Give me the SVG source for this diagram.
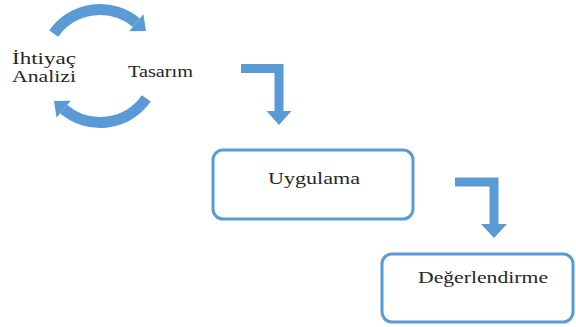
<svg xmlns="http://www.w3.org/2000/svg" width="576" height="327" viewBox="0 0 576 327">
  <defs>
    <style>
      .lbl { font-size: 17px; fill: #262626; }
      .box { fill: #ffffff; stroke: #5b9bd5; stroke-width: 3; }
      .band { fill: none; stroke: #5b9bd5; stroke-width: 11; stroke-linecap: butt; }
      .bar { fill: none; stroke: #5b9bd5; stroke-width: 9; stroke-linejoin: miter; stroke-linecap: butt; }
      .head { fill: #5b9bd5; }
    </style>
  </defs>
  <rect width="576" height="327" fill="#ffffff"/>

  <g id="connectors">
    <path class="band" d="M53.7,33.6 A56.5,56.5 0 0 1 136.3,22.7"/>
    <polygon class="head" points="143.4,14.2 146.0,31.0 129.2,31.2"/>
    <path class="band" d="M146.3,98.4 A56.5,56.5 0 0 1 63.7,109.3"/>
    <polygon class="head" points="56.6,117.8 54.0,101.0 70.8,100.8"/>
    <path class="bar" d="M241,68.5 H279 V112"/>
    <polygon class="head" points="266.5,111 291.5,111 279,125"/>
    <path class="bar" d="M455,182 H494 V225"/>
    <polygon class="head" points="481,224 507,224 494,238"/>
  </g>

  <g font-family="Liberation Serif, DejaVu Serif, serif">
    <g id="node-ihtiyac">
      <text class="lbl" x="12" y="64" textLength="64" lengthAdjust="spacingAndGlyphs">İhtiyaç</text>
      <text class="lbl" x="12" y="82" textLength="64" lengthAdjust="spacingAndGlyphs">Analizi</text>
    </g>

    <g id="node-tasarim">
      <text class="lbl" x="128" y="77" textLength="65" lengthAdjust="spacingAndGlyphs">Tasarım</text>
    </g>

    <g id="node-uygulama">
      <rect class="box" x="213" y="150" width="200" height="69" rx="10" ry="10"/>
      <text class="lbl" x="268" y="184" textLength="92" lengthAdjust="spacingAndGlyphs">Uygulama</text>
    </g>

    <g id="node-degerlendirme">
      <rect class="box" x="382" y="254" width="191" height="68" rx="10" ry="10"/>
      <text class="lbl" x="418" y="283" textLength="130" lengthAdjust="spacingAndGlyphs">Değerlendirme</text>
    </g>
  </g>
</svg>
